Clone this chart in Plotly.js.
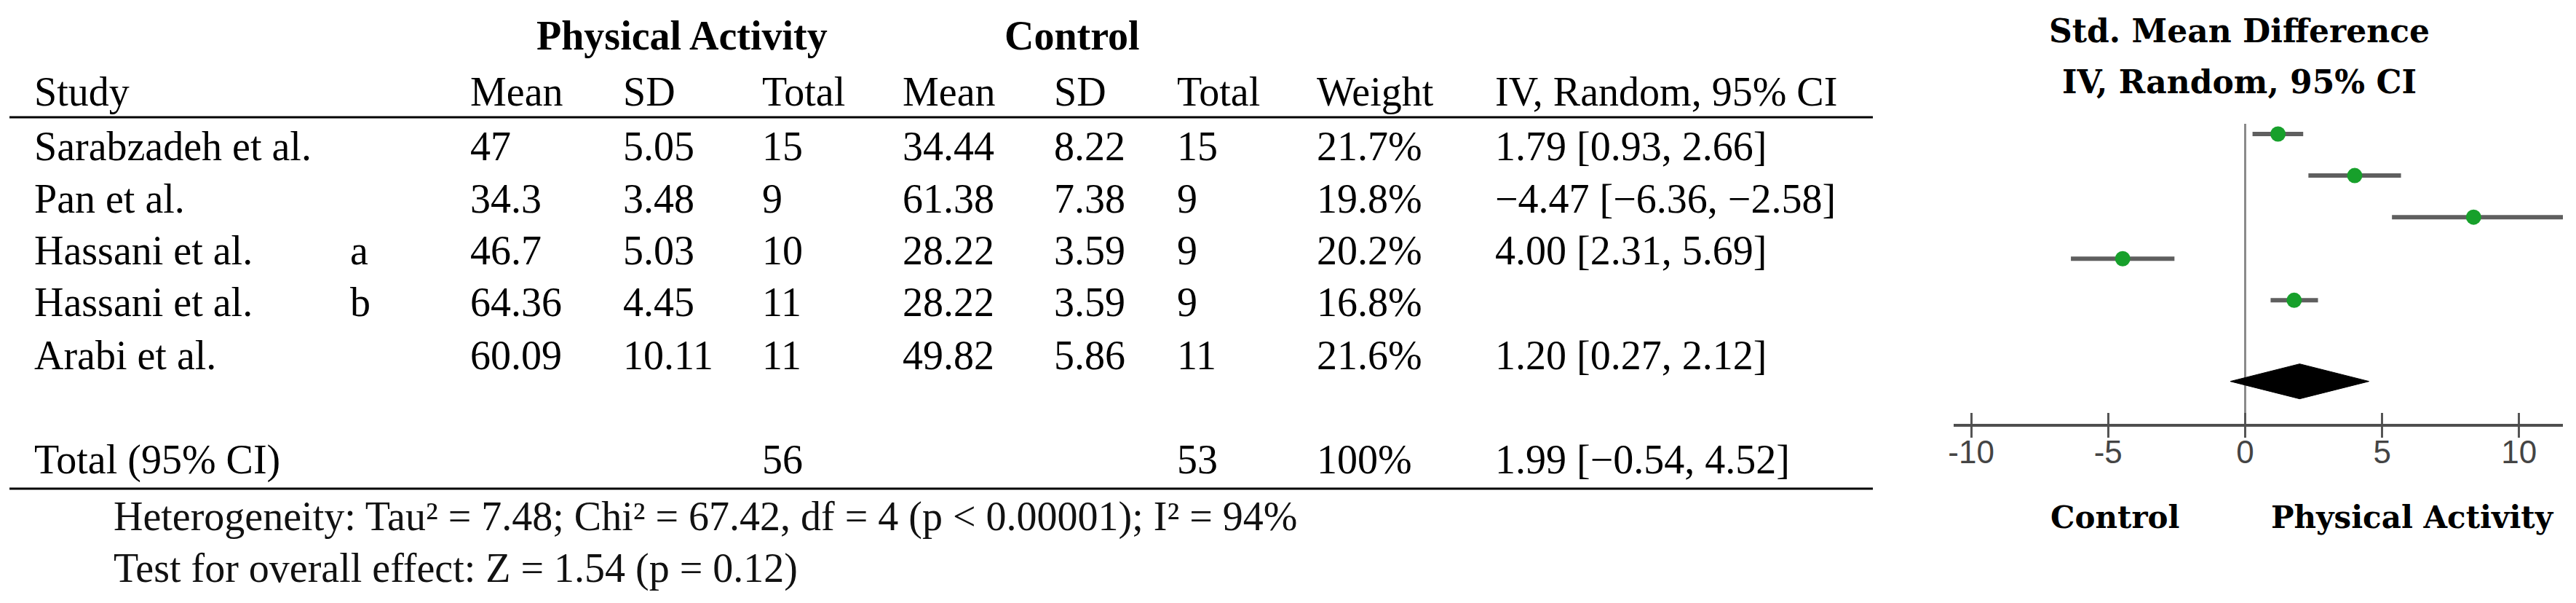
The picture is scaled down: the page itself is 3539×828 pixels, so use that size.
<!DOCTYPE html>
<html>
<head>
<meta charset="utf-8">
<script src="https://cdn.plot.ly/plotly-3.0.1.min.js"></script>
<style>
  html, body { margin: 0; padding: 0; background: #fff; overflow: hidden; }
  #chart { width: 3539px; height: 828px; }
</style>
</head>
<body>
<div id="chart"></div>
<script>
// ---------------- table data ----------------
const studies   = ['Sarabzadeh et al.', 'Pan et al.', 'Hassani et al.', 'Hassani et al.', 'Arabi et al.'];
const subgroups = ['', '', 'a', 'b', ''];
const paMean    = ['47', '34.3', '46.7', '64.36', '60.09'];
const paSD      = ['5.05', '3.48', '5.03', '4.45', '10.11'];
const paTotal   = [15, 9, 10, 11, 11];
const ctMean    = ['34.44', '61.38', '28.22', '28.22', '49.82'];
const ctSD      = ['8.22', '7.38', '3.59', '3.59', '5.86'];
const ctTotal   = [15, 9, 9, 9, 11];
const weights   = [21.7, 19.8, 20.2, 16.8, 21.6];
const smdTable  = [1.79, -4.47, 4.00, null, 1.20];
const loTable   = [0.93, -6.36, 2.31, null, 0.27];
const hiTable   = [2.66, -2.58, 5.69, null, 2.12];
const totalPA   = 56;
const totalCT   = 53;
const totalW    = '100%';
const pooled    = [1.99, -0.54, 4.52];   // estimate, lower, upper
const heterogeneity = 'Heterogeneity: Tau² = 7.48; Chi² = 67.42, df = 4 (p < 0.00001); I² = 94%';
const overallTest   = 'Test for overall effect: Z = 1.54 (p = 0.12)';

// ---------------- forest plot data (as drawn, top to bottom) ----------------
const plotEst = [1.20, 4.00, 8.34, -4.47, 1.79];
const plotLo  = [0.27, 2.31, 5.36, -6.36, 0.93];
const plotHi  = [2.12, 5.69, 11.60, -2.58, 2.66];
const tickVals   = [-10, -5, 0, 5, 10];
const tickLabels = ['-10', '-5', '0', '5', '10'];

// ---------------- helpers ----------------
const W = 3539, H = 828;
const px = x => x / W;
const py = y => 1 - y / H;
const fmt = v => (v < 0 ? '\u2212' : '') + Math.abs(v).toFixed(2);

const SERIF = 'Liberation Serif, Times New Roman, serif';
const TF = 56;            // table font size
const annotations = [];
function txt(x, baseline, text, opt) {
  opt = opt || {};
  const size = opt.size || TF;
  const fam = opt.family || SERIF;
  const off = opt.off !== undefined ? opt.off : 0.3375;
  annotations.push({
    xref: 'paper', yref: 'paper', x: px(x), y: py(baseline - off * size),
    xanchor: opt.anchor || 'left', yanchor: 'middle', showarrow: false,
    text: text, borderpad: 0,
    font: { family: fam, size: size, color: opt.color || '#000' }
  });
}

// columns (left edges, px)
const C = { study: 46, sub: 480, paM: 645, paS: 855, paT: 1046, ctM: 1239, ctS: 1447, ctT: 1616, w: 1808, ci: 2053 };

// group headers
txt(736, 68, '<b>Physical Activity</b>');
txt(1379, 68, '<b>Control</b>');
// column headers
const hdrY = 145;
txt(C.study, hdrY, 'Study');
txt(C.paM, hdrY, 'Mean'); txt(C.paS, hdrY, 'SD'); txt(C.paT, hdrY, 'Total');
txt(C.ctM, hdrY, 'Mean'); txt(C.ctS, hdrY, 'SD'); txt(C.ctT, hdrY, 'Total');
txt(C.w, hdrY, 'Weight'); txt(C.ci, hdrY, 'IV, Random, 95% CI');

// study rows
const rowBase = [220, 291.5, 363, 434, 506.5];
studies.forEach((s, i) => {
  const b = rowBase[i];
  txt(C.study, b, s);
  if (subgroups[i]) txt(C.sub, b, subgroups[i]);
  txt(C.paM, b, paMean[i]); txt(C.paS, b, paSD[i]); txt(C.paT, b, String(paTotal[i]));
  txt(C.ctM, b, ctMean[i]); txt(C.ctS, b, ctSD[i]); txt(C.ctT, b, String(ctTotal[i]));
  txt(C.w, b, weights[i].toFixed(1) + '%');
  if (smdTable[i] !== null) txt(C.ci, b, fmt(smdTable[i]) + ' [' + fmt(loTable[i]) + ', ' + fmt(hiTable[i]) + ']');
});
// total row
const totY = 650;
txt(C.study, totY, 'Total (95% CI)');
txt(C.paT, totY, String(totalPA));
txt(C.ctT, totY, String(totalCT));
txt(C.w, totY, totalW);
txt(C.ci, totY, fmt(pooled[0]) + ' [' + fmt(pooled[1]) + ', ' + fmt(pooled[2]) + ']');
// footers
txt(155, 728, heterogeneity, { color: '#111' });
txt(155, 799, overallTest, { color: '#111' });

// forest plot headers and direction labels
const PLOTFONT = 'DejaVu Serif, serif';
txt(3076, 58, '<b>Std. Mean Difference</b>', { family: PLOTFONT, size: 44, anchor: 'center', off: 0.346 });
txt(3076, 128, '<b>IV, Random, 95% CI</b>', { family: PLOTFONT, size: 44, anchor: 'center', off: 0.346 });
txt(2905, 725, '<b>Control</b>', { family: PLOTFONT, size: 42, anchor: 'center', off: 0.346 });
txt(3314, 725, '<b>Physical Activity</b>', { family: PLOTFONT, size: 42, anchor: 'center', off: 0.346 });

// rules
const shapes = [
  { type: 'line', xref: 'paper', yref: 'paper', x0: px(13), x1: px(2573), y0: py(161), y1: py(161), line: { color: '#000', width: 3 } },
  { type: 'line', xref: 'paper', yref: 'paper', x0: px(13), x1: px(2573), y0: py(671), y1: py(671), line: { color: '#000', width: 3 } }
];

// ---------------- forest traces ----------------
const rowY = plotEst.map((_, i) => plotEst.length - i);   // 5..1
const diamondY = -0.95, diamondH = 0.42;

const studyTrace = {
  type: 'scatter', mode: 'markers', xaxis: 'x', yaxis: 'y',
  x: plotEst, y: rowY,
  marker: { color: '#17a02b', size: 21, line: { width: 0 } },
  error_x: {
    type: 'data', symmetric: false,
    array: plotEst.map((e, i) => plotHi[i] - e),
    arrayminus: plotEst.map((e, i) => e - plotLo[i]),
    color: '#5f5f5f', thickness: 6, width: 0
  },
  cliponaxis: false, hoverinfo: 'skip'
};
const diamondTrace = {
  type: 'scatter', mode: 'lines', xaxis: 'x2', yaxis: 'y',
  x: [pooled[1], pooled[0], pooled[2], pooled[0], pooled[1]],
  y: [diamondY, diamondY + diamondH, diamondY, diamondY - diamondH, diamondY],
  fill: 'toself', fillcolor: '#000', line: { color: '#000', width: 1 },
  hoverinfo: 'skip'
};

const X0 = -10.64, X1 = 11.6;
const layout = {
  width: W, height: H,
  margin: { l: 0, r: 0, t: 0, b: 0 },
  paper_bgcolor: '#fff', plot_bgcolor: 'rgba(0,0,0,0)',
  showlegend: false,
  xaxis: {
    domain: [px(2684), px(3521)], range: [X0, X1], anchor: 'y',
    showgrid: false, zeroline: true, zerolinecolor: '#8a8a8a', zerolinewidth: 3,
    showline: true, linecolor: '#4f4f4f', linewidth: 4,
    ticks: 'outside', ticklen: 15, tickwidth: 3, tickcolor: '#555',
    tickmode: 'array', tickvals: tickVals, ticktext: tickLabels,
    ticklabelstandoff: -18,
    tickfont: { family: 'Liberation Sans Narrow, Liberation Sans, Arial, sans-serif', size: 44, color: '#444' },
    fixedrange: true
  },
  xaxis2: {
    overlaying: 'x', matches: 'x', anchor: 'y',
    ticks: 'inside', ticklen: 15, tickwidth: 3, tickcolor: '#555',
    tickmode: 'array', tickvals: tickVals, showticklabels: false,
    showgrid: false, zeroline: false, showline: false, fixedrange: true
  },
  yaxis: {
    domain: [py(582), py(170)], range: [-1.972, 5.245],
    visible: false, fixedrange: true
  },
  annotations: annotations,
  shapes: shapes
};

Plotly.newPlot('chart', [studyTrace, diamondTrace], layout, { staticPlot: true, displayModeBar: false });
</script>
</body>
</html>
